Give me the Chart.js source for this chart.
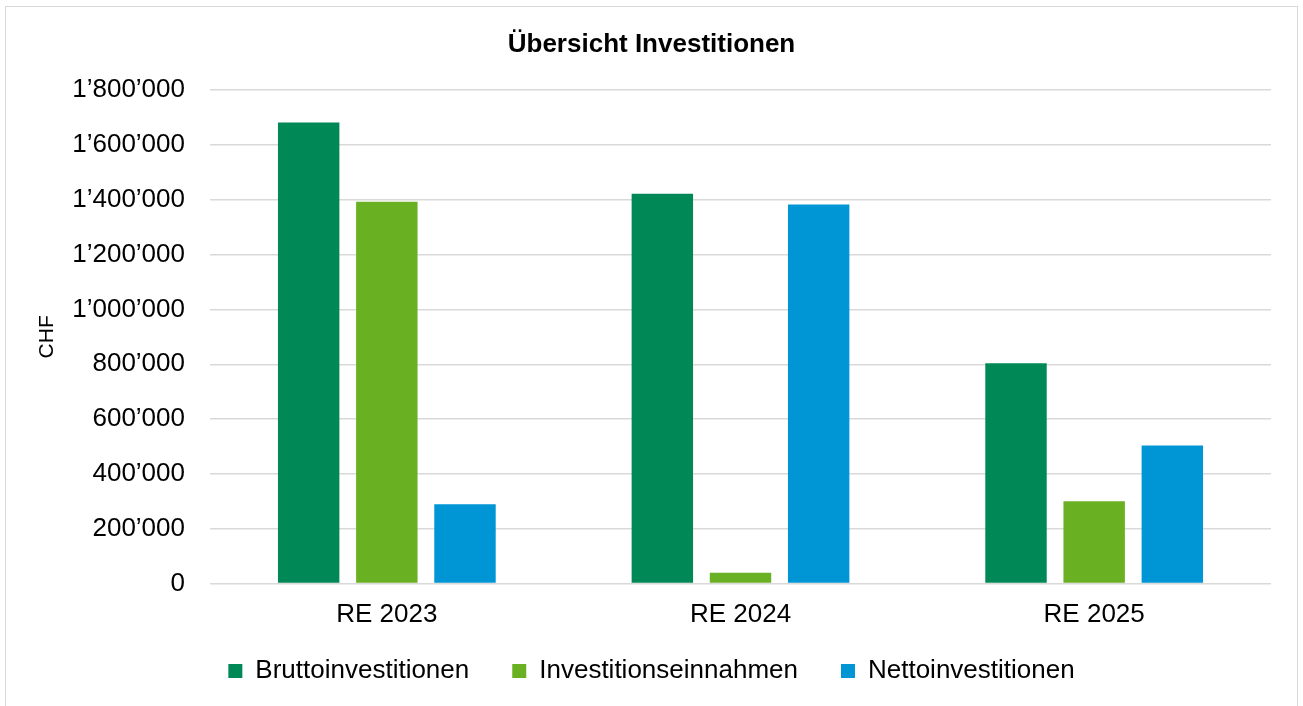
<!DOCTYPE html>
<html>
<head>
<meta charset="utf-8">
<title>Übersicht Investitionen</title>
<script src="https://cdn.jsdelivr.net/npm/chart.js@4/dist/chart.umd.min.js"></script>
<style>
    html, body { margin: 0; padding: 0; background: #ffffff; overflow: hidden; }
    #frame {
        position: absolute; left: 5px; top: 6px; width: 1293px; height: 730px;
        border: 1.5px solid #d9d9d9; box-sizing: border-box;
    }
    #chart { position: absolute; left: 0; top: 0; }
</style>
</head>
<body>
<div id="frame"></div>
<canvas id="chart" width="1303" height="706"></canvas>
<script>
// data
var categories = ['RE 2023', 'RE 2024', 'RE 2025'];
var bruttoinvestitionen = [1682000, 1422000, 804000];
var investitionseinnahmen = [1393000, 39000, 300000];
var nettoinvestitionen = [289000, 1383000, 504000];
var seriesNames = ['Bruttoinvestitionen', 'Investitionseinnahmen', 'Nettoinvestitionen'];
var seriesColors = ['#008856', '#6ab023', '#0096d6'];
var yMax = 1800000;
var yStep = 200000;

function formatCHF(value) {
    // swiss style thousands separator
    return String(value).replace(/\B(?=(\d{3})+(?!\d))/g, '\u2019');
}

var fontFamily = '"Liberation Sans", Arial, sans-serif';
Chart.defaults.font.family = fontFamily;
Chart.defaults.color = '#000000';

var seriesValues = [bruttoinvestitionen, investitionseinnahmen, nettoinvestitionen];
var datasets = [];
for (var i = 0; i < seriesValues.length; i++) {
    datasets.push({
        label: seriesNames[i],
        data: seriesValues[i],
        backgroundColor: seriesColors[i],
        borderWidth: 0,
        categoryPercentage: 0.663,
        barPercentage: 0.786
    });
}

var ctx = document.getElementById('chart');
var investChart = new Chart(ctx, {
    type: 'bar',
    data: {
        labels: categories,
        datasets: datasets
    },
    options: {
        responsive: false,
        animation: false,
        layout: {
            padding: { left: 32, right: 32, top: 0, bottom: 12 }
        },
        plugins: {
            title: {
                display: true,
                text: 'Übersicht Investitionen',
                font: { size: 26, weight: 'bold' },
                padding: { top: 29, bottom: 30 }
            },
            legend: {
                position: 'bottom',
                labels: {
                    boxWidth: 14,
                    boxHeight: 14,
                    padding: 43,
                    font: { size: 26 }
                }
            },
            tooltip: { enabled: false }
        },
        scales: {
            x: {
                grid: { display: false, drawTicks: false },
                border: { display: false },
                ticks: { font: { size: 26 }, padding: 15.5 },
                afterFit: function (scale) {
                    scale.height = 31.5;
                    // the legend sits close, don't clip the labels to the short axis box
                    scale._computeLabelArea = function () { return null; };
                }
            },
            y: {
                min: 0,
                max: yMax,
                ticks: {
                    stepSize: yStep,
                    padding: 25,
                    font: { size: 26 },
                    callback: function (v) { return formatCHF(v); }
                },
                grid: { color: '#d9d9d9', lineWidth: 1.5, drawTicks: false },
                border: { display: false },
                title: {
                    display: true,
                    text: 'CHF',
                    font: { size: 21 },
                    padding: { top: 3, bottom: 0 }
                },
                afterFit: function (scale) { scale.width = 178; }
            }
        }
    }
});
</script>
</body>
</html>
